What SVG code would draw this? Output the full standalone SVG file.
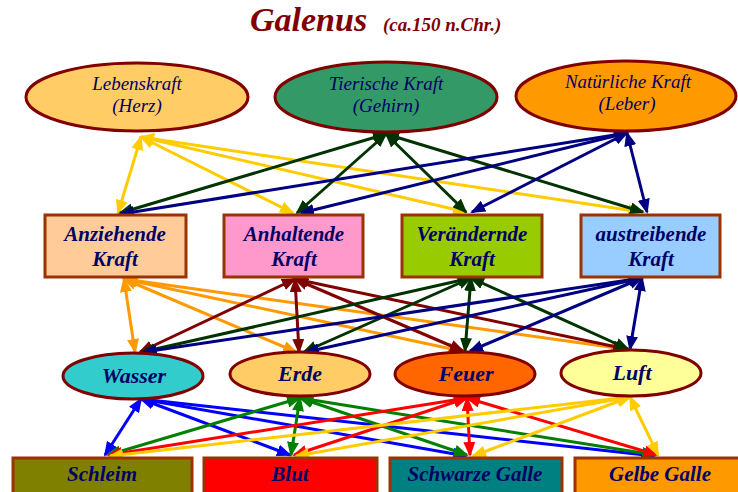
<svg xmlns="http://www.w3.org/2000/svg" width="738" height="492" viewBox="0 0 738 492">
  <style>
    .t { font-family: "Liberation Serif", "DejaVu Serif", serif; font-style: italic; fill: #000066; text-anchor: middle; }
    .top { font-size: 19px; }
    .bx { font-size: 21px; font-weight: bold; }
    .el { font-size: 22px; font-weight: bold; }
    .hu { font-size: 21px; font-weight: bold; }
    .ell { stroke: #800000; stroke-width: 3; }
    .box { stroke: #993300; stroke-width: 3; }
    .c line { stroke-width: 3; fill: none; }
    .yel { stroke: #FFCC00; marker-start: url(#mYel); marker-end: url(#mYel); }
    .dgr { stroke: #003300; marker-start: url(#mDgr); marker-end: url(#mDgr); }
    .nav { stroke: #000080; marker-start: url(#mNav); marker-end: url(#mNav); }
    .org { stroke: #FF9900; marker-start: url(#mOrg); marker-end: url(#mOrg); }
    .drd { stroke: #800000; marker-start: url(#mDrd); marker-end: url(#mDrd); }
    .blu { stroke: #0000FF; marker-start: url(#mBlu); marker-end: url(#mBlu); }
    .grn { stroke: #008000; marker-start: url(#mGrn); marker-end: url(#mGrn); }
    .red { stroke: #FF0000; marker-start: url(#mRed); marker-end: url(#mRed); }
  </style>
  <defs>
    <marker id="mYel" markerUnits="userSpaceOnUse" markerWidth="15" markerHeight="12" refX="13" refY="6" orient="auto-start-reverse"><path d="M0,0 L15,6 L0,12 z" fill="#FFCC00"/></marker>
    <marker id="mDgr" markerUnits="userSpaceOnUse" markerWidth="15" markerHeight="12" refX="13" refY="6" orient="auto-start-reverse"><path d="M0,0 L15,6 L0,12 z" fill="#003300"/></marker>
    <marker id="mNav" markerUnits="userSpaceOnUse" markerWidth="15" markerHeight="12" refX="13" refY="6" orient="auto-start-reverse"><path d="M0,0 L15,6 L0,12 z" fill="#000080"/></marker>
    <marker id="mOrg" markerUnits="userSpaceOnUse" markerWidth="15" markerHeight="12" refX="13" refY="6" orient="auto-start-reverse"><path d="M0,0 L15,6 L0,12 z" fill="#FF9900"/></marker>
    <marker id="mDrd" markerUnits="userSpaceOnUse" markerWidth="15" markerHeight="12" refX="13" refY="6" orient="auto-start-reverse"><path d="M0,0 L15,6 L0,12 z" fill="#800000"/></marker>
    <marker id="mBlu" markerUnits="userSpaceOnUse" markerWidth="15" markerHeight="12" refX="13" refY="6" orient="auto-start-reverse"><path d="M0,0 L15,6 L0,12 z" fill="#0000FF"/></marker>
    <marker id="mGrn" markerUnits="userSpaceOnUse" markerWidth="15" markerHeight="12" refX="13" refY="6" orient="auto-start-reverse"><path d="M0,0 L15,6 L0,12 z" fill="#008000"/></marker>
    <marker id="mRed" markerUnits="userSpaceOnUse" markerWidth="15" markerHeight="12" refX="13" refY="6" orient="auto-start-reverse"><path d="M0,0 L15,6 L0,12 z" fill="#FF0000"/></marker>
  </defs>

  <rect width="738" height="492" fill="#FFFFFF"/>

  <!-- title -->
  <g id="title" fill="#800000" font-family="'Liberation Serif', 'DejaVu Serif', serif" font-style="italic" font-weight="bold">
    <text x="250" y="31" font-size="34">Galenus</text>
    <text x="383" y="31" font-size="19">(ca.150 n.Chr.)</text>
  </g>

  <!-- connectors -->
  <g id="connectors" class="c">
    <!-- three faculties to the four powers -->
    <line class="yel" x1="141" y1="137" x2="118" y2="213"/>
    <line class="yel" x1="141" y1="137" x2="293" y2="213"/>
    <line class="yel" x1="141" y1="137" x2="466" y2="212"/>
    <line class="yel" x1="141" y1="137" x2="641" y2="212"/>
    <line class="dgr" x1="386" y1="134" x2="120" y2="213"/>
    <line class="dgr" x1="386" y1="134" x2="297" y2="213"/>
    <line class="dgr" x1="386" y1="134" x2="466" y2="212"/>
    <line class="dgr" x1="386" y1="134" x2="643" y2="212"/>
    <line class="nav" x1="627" y1="133" x2="121" y2="214"/>
    <line class="nav" x1="627" y1="133" x2="301" y2="213"/>
    <line class="nav" x1="627" y1="133" x2="472" y2="212"/>
    <line class="nav" x1="627" y1="133" x2="647" y2="212"/>
    <!-- four powers to the four elements -->
    <line class="org" x1="124" y1="279" x2="135" y2="352"/>
    <line class="org" x1="124" y1="279" x2="296" y2="352"/>
    <line class="org" x1="124" y1="279" x2="461" y2="351"/>
    <line class="org" x1="124" y1="279" x2="624" y2="349"/>
    <line class="drd" x1="295" y1="279" x2="140" y2="352"/>
    <line class="drd" x1="295" y1="279" x2="299" y2="352"/>
    <line class="drd" x1="295" y1="279" x2="463" y2="351"/>
    <line class="drd" x1="295" y1="279" x2="626" y2="349"/>
    <line class="dgr" x1="471" y1="278" x2="142" y2="352"/>
    <line class="dgr" x1="471" y1="278" x2="304" y2="352"/>
    <line class="dgr" x1="471" y1="278" x2="465" y2="351"/>
    <line class="dgr" x1="471" y1="278" x2="628" y2="349"/>
    <line class="nav" x1="642" y1="278" x2="144" y2="352"/>
    <line class="nav" x1="642" y1="278" x2="306" y2="352"/>
    <line class="nav" x1="642" y1="278" x2="470" y2="351"/>
    <line class="nav" x1="642" y1="278" x2="630" y2="349"/>
    <!-- four elements to the four humours -->
    <line class="blu" x1="141" y1="399" x2="105" y2="455"/>
    <line class="blu" x1="141" y1="399" x2="290" y2="455"/>
    <line class="blu" x1="141" y1="399" x2="466" y2="456"/>
    <line class="blu" x1="141" y1="399" x2="654" y2="456"/>
    <line class="grn" x1="300" y1="398" x2="108" y2="455"/>
    <line class="grn" x1="300" y1="398" x2="291" y2="455"/>
    <line class="grn" x1="300" y1="398" x2="467" y2="455"/>
    <line class="grn" x1="300" y1="398" x2="655" y2="455"/>
    <line class="red" x1="467" y1="398" x2="109" y2="455"/>
    <line class="red" x1="467" y1="398" x2="294" y2="455"/>
    <line class="red" x1="467" y1="398" x2="470" y2="455"/>
    <line class="red" x1="467" y1="398" x2="657" y2="455"/>
    <line class="yel" x1="630" y1="397" x2="110" y2="456"/>
    <line class="yel" x1="630" y1="397" x2="296" y2="456"/>
    <line class="yel" x1="630" y1="397" x2="473" y2="456"/>
    <line class="yel" x1="630" y1="397" x2="658" y2="455"/>
  </g>

  <!-- faculties -->
  <g id="lebenskraft">
    <ellipse class="ell" cx="137" cy="97" rx="111" ry="34" fill="#FFCC66"/>
    <text class="t top" x="137" y="90">Lebenskraft</text>
    <text class="t top" x="137" y="112">(Herz)</text>
  </g>
  <g id="tierische-kraft">
    <ellipse class="ell" cx="386" cy="97" rx="111" ry="35" fill="#339966"/>
    <text class="t top" x="386" y="90">Tierische Kraft</text>
    <text class="t top" x="386" y="112">(Gehirn)</text>
  </g>
  <g id="natuerliche-kraft">
    <ellipse class="ell" cx="626" cy="96" rx="110" ry="35" fill="#FF9900"/>
    <text class="t top" x="628" y="88">Natürliche Kraft</text>
    <text class="t top" x="627" y="110">(Leber)</text>
  </g>

  <!-- powers -->
  <g id="anziehende">
    <rect class="box" x="45" y="215" width="141" height="62" fill="#FFCC99"/>
    <text class="t bx" x="115" y="241">Anziehende</text>
    <text class="t bx" x="115" y="266">Kraft</text>
  </g>
  <g id="anhaltende">
    <rect class="box" x="224" y="215" width="139" height="62" fill="#FF99CC"/>
    <text class="t bx" x="294" y="241">Anhaltende</text>
    <text class="t bx" x="294" y="266">Kraft</text>
  </g>
  <g id="veraendernde">
    <rect class="box" x="402" y="215" width="140" height="62" fill="#99CC00"/>
    <text class="t bx" x="472" y="241">Verändernde</text>
    <text class="t bx" x="472" y="266">Kraft</text>
  </g>
  <g id="austreibende">
    <rect class="box" x="581" y="215" width="139" height="62" fill="#99CCFF"/>
    <text class="t bx" x="651" y="241">austreibende</text>
    <text class="t bx" x="651" y="266">Kraft</text>
  </g>

  <!-- elements -->
  <g id="wasser">
    <ellipse class="ell" cx="133" cy="376" rx="70" ry="23" fill="#33CCCC"/>
    <text class="t el" x="134" y="383">Wasser</text>
  </g>
  <g id="erde">
    <ellipse class="ell" cx="300" cy="374" rx="70" ry="22" fill="#FFCC66"/>
    <text class="t el" x="300" y="381">Erde</text>
  </g>
  <g id="feuer">
    <ellipse class="ell" cx="465" cy="374" rx="70" ry="22" fill="#FF6600"/>
    <text class="t el" x="466" y="381">Feuer</text>
  </g>
  <g id="luft">
    <ellipse class="ell" cx="631" cy="373" rx="70" ry="23" fill="#FFFF99"/>
    <text class="t el" x="632" y="380">Luft</text>
  </g>

  <!-- humours -->
  <g id="schleim">
    <rect class="box" x="13" y="458" width="179" height="44" fill="#808000"/>
    <text class="t hu" x="102" y="481">Schleim</text>
  </g>
  <g id="blut">
    <rect class="box" x="204" y="458" width="173" height="44" fill="#FF0000"/>
    <text class="t hu" x="290" y="481">Blut</text>
  </g>
  <g id="schwarze-galle">
    <rect class="box" x="390" y="458" width="172" height="44" fill="#008080"/>
    <text class="t hu" x="475" y="481">Schwarze Galle</text>
  </g>
  <g id="gelbe-galle">
    <rect class="box" x="575" y="458" width="175" height="44" fill="#FF9900"/>
    <text class="t hu" x="660" y="481">Gelbe Galle</text>
  </g>
</svg>
